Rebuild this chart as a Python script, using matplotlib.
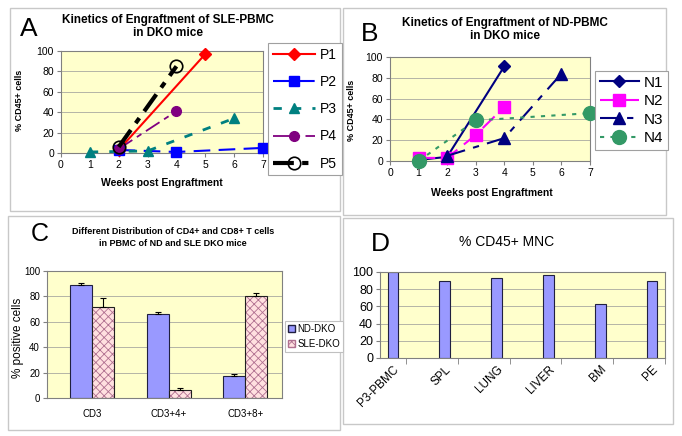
import matplotlib
matplotlib.use('Agg')
from matplotlib import pyplot as plt
from matplotlib.patches import Rectangle, Patch
from matplotlib.lines import Line2D
import numpy as np

plt.rcParams['font.family'] = ['Liberation Sans', 'DejaVu Sans']
plt.rcParams['hatch.linewidth'] = 0.6

# panel A - SLE-PBMC kinetics
a_names = ['P1', 'P2', 'P3', 'P4', 'P5']
a_weeks = [[2, 5], [2, 4, 7], [1, 3, 6], [2, 4], [2, 4]]
a_vals = [[3, 97], [3, 1, 5], [1, 2, 34], [4, 41], [6, 85]]

# panel B - ND-PBMC kinetics
b_names = ['N1', 'N2', 'N3', 'N4']
b_weeks = [[1, 2, 4], [1, 2, 3, 4], [2, 4, 6], [1, 3, 7]]
b_vals = [[1, 4, 91], [3, 3, 25, 52], [5, 22, 84], [0, 39, 46]]

# panel C - CD4/CD8 distribution
c_cats = ['CD3', 'CD3+4+', 'CD3+8+']
c_nd = [89, 66, 17]
c_nd_err = [1.5, 1.5, 2]
c_sle = [72, 6, 80]
c_sle_err = [7, 2, 3]

# panel D - CD45+ MNC
d_cats = ['P3-PBMC', 'SPL', 'LUNG', 'LIVER', 'BM', 'PE']
d_vals = [100, 90, 93, 96, 63, 90]

W, H = 682, 436
fig = plt.figure(figsize=(W / 100, H / 100), dpi=100)
YEL = '#ffffcc'
GRID = '#a8a8a0'


def rect(x0, y0, x1, y1):
    return [x0 / W, 1 - y1 / H, (x1 - x0) / W, (y1 - y0) / H]


def fx(x):
    return x / W


def fy(y):
    return 1 - y / H


def frame(x0, y0, x1, y1):
    fig.add_artist(Rectangle((fx(x0), fy(y1)), (x1 - x0) / W, (y1 - y0) / H,
                             transform=fig.transFigure, fill=False,
                             ec='#c8c8c8', lw=1))


def txt(x, y, s, **kw):
    fig.text(fx(x), fy(y), s, ha='center', va='center', **kw)


def style_ax(ax, fs):
    ax.set_facecolor(YEL)
    for s in ax.spines.values():
        s.set_color('#808080')
        s.set_linewidth(0.8)
    ax.set_ylim(0, 100)
    ax.set_yticks(np.arange(0, 101, 20))
    for g in [20, 40, 60, 80]:
        ax.axhline(g, color=GRID, lw=0.6, zorder=0)
    ax.tick_params(labelsize=fs, length=3, color='#808080', pad=2)


frame(10, 8, 340, 211)
frame(343, 8, 666, 215)
frame(8, 216, 340, 430)
frame(343, 218, 673, 424)

# ---------- A ----------
axA = fig.add_axes(rect(61, 51, 263, 153))
style_ax(axA, 7.5)
axA.set_xlim(0, 7)
axA.set_xticks(range(8))
a_style = [
    dict(color='#ff0000', ls='-', lw=1.5, marker='D', ms=6),
    dict(color='#0000ff', ls=(0, (8, 4)), lw=1.5, marker='s', ms=6.5),
    dict(color='#008080', ls=(0, (3, 4)), lw=2, marker='^', ms=7),
    dict(color='#800080', ls=(0, (9, 3, 3, 3)), lw=1.3, marker='o', ms=7),
    dict(color='#000000', ls=(0, (5, 2, 1.5, 2)), lw=3, marker='o', ms=9,
         mfc='none', mew=1.2),
]
handles = []
for name, x, y, st in zip(a_names, a_weeks, a_vals, a_style):
    ln, = axA.plot(x, y, label=name, clip_on=False, zorder=3, **st)
    handles.append(ln)
legA = fig.legend(handles=handles, loc='upper left',
                  bbox_to_anchor=(fx(268), fy(43)), fontsize=10,
                  handlelength=3.0, labelspacing=0.95, borderaxespad=0,
                  fancybox=False, edgecolor='#a0a0a0', framealpha=1,
                  borderpad=0.35, handletextpad=0.4)
legA.get_frame().set_linewidth(0.8)
txt(168, 20, 'Kinetics of Engraftment of SLE-PBMC', fontsize=8.5, fontweight='bold')
txt(168, 33, 'in DKO mice', fontsize=8.5, fontweight='bold')
txt(29, 29, 'A', fontsize=19)
txt(162, 183, 'Weeks post Engraftment', fontsize=7.5, fontweight='bold')
txt(20, 100, '% CD45+ cells', fontsize=6.5, fontweight='bold', rotation=90)

# ---------- B ----------
axB = fig.add_axes(rect(390, 57, 590, 161))
style_ax(axB, 7.5)
axB.set_xlim(0, 7)
axB.set_xticks(range(8))
b_style = [
    dict(color='#000080', ls='-', lw=1.5, marker='D', ms=6),
    dict(color='#ff00ff', ls=(0, (8, 4)), lw=1.5, marker='s', ms=8.5),
    dict(color='#000080', ls=(0, (9, 4, 3, 4)), lw=1.5, marker='^', ms=8),
    dict(color='#339966', ls=(0, (2, 3)), lw=1.5, marker='o', ms=10),
]
handles = []
for name, x, y, st in zip(b_names, b_weeks, b_vals, b_style):
    ln, = axB.plot(x, y, label=name, clip_on=False, zorder=3, **st)
    handles.append(ln)
legB = fig.legend(handles=handles, loc='upper left',
                  bbox_to_anchor=(fx(595), fy(71)), fontsize=11,
                  handlelength=2.6, labelspacing=0.3, borderaxespad=0,
                  fancybox=False, edgecolor='#a0a0a0', framealpha=1,
                  borderpad=0.3, handletextpad=0.3)
legB.get_frame().set_linewidth(0.8)
txt(505, 23, 'Kinetics of Engraftment of ND-PBMC', fontsize=8.5, fontweight='bold')
txt(505, 36, 'in DKO mice', fontsize=8.5, fontweight='bold')
txt(370, 34, 'B', fontsize=19)
txt(492, 193, 'Weeks post Engraftment', fontsize=7.5, fontweight='bold')
txt(352, 110, '% CD45+ cells', fontsize=6.5, fontweight='bold', rotation=90)

# ---------- C ----------
axC = fig.add_axes(rect(47, 271, 282, 398))
style_ax(axC, 7)
axC.tick_params(axis='x', length=0, pad=8)
xc = np.arange(len(c_cats))
bw = 0.29
axC.bar(xc - bw / 2, c_nd, bw, color='#9999ff', edgecolor='#202040', lw=0.8, zorder=2,
        yerr=[[0] * 3, c_nd_err], error_kw=dict(ecolor='black', capsize=2.5, lw=0.8, capthick=0.8))
axC.bar(xc + bw / 2, c_sle, bw, color='#ffe0e0', edgecolor='#b07090', hatch='xxxx', lw=0, zorder=2)
axC.bar(xc + bw / 2, c_sle, bw, color='none', edgecolor='#202020', lw=0.8, zorder=3,
        yerr=[[0] * 3, c_sle_err], error_kw=dict(ecolor='black', capsize=2.5, lw=0.8, capthick=0.8))
axC.set_xlim(-0.59, 2.48)
axC.set_xticks(xc, c_cats)
legC = fig.legend(handles=[Patch(facecolor='#9999ff', edgecolor='#202040', label='ND-DKO'),
                           Patch(facecolor='#ffe0e0', edgecolor='#b07090', hatch='xxxx', label='SLE-DKO')],
                  loc='upper left', bbox_to_anchor=(fx(285), fy(321)), fontsize=7,
                  handlelength=0.7, handleheight=0.7, borderaxespad=0, fancybox=False,
                  edgecolor='#c0c0c0', framealpha=1, borderpad=0.3, handletextpad=0.3,
                  labelspacing=0.5)
legC.get_frame().set_linewidth(0.8)
txt(173, 231, 'Different Distribution of CD4+ and CD8+ T cells', fontsize=6.5, fontweight='bold')
txt(173, 243, 'in PBMC of ND and SLE DKO mice', fontsize=6.5, fontweight='bold')
txt(40, 234, 'C', fontsize=18)
txt(18, 338, '% positive cells', fontsize=8.5, rotation=90)

# ---------- D ----------
axD = fig.add_axes(rect(380, 272, 665, 358))
style_ax(axD, 9)
xd = np.arange(len(d_cats))
axD.bar(xd, d_vals, 0.21, color='#9999ff', edgecolor='#202040', lw=0.8, zorder=2)
axD.set_xlim(-0.25, 5.25)
axD.set_xticks(xd, d_cats, rotation=45, ha='right', rotation_mode='anchor', fontsize=8.5)
axD.tick_params(axis='x', length=0, pad=4)
axD.set_xticks(xd + 0.25, minor=True)
axD.tick_params(axis='x', which='minor', length=4, color='#808080')
txt(507, 242, '% CD45+ MNC', fontsize=10)
txt(380, 244, 'D', fontsize=19)

fig.savefig('out.png', dpi=100)
